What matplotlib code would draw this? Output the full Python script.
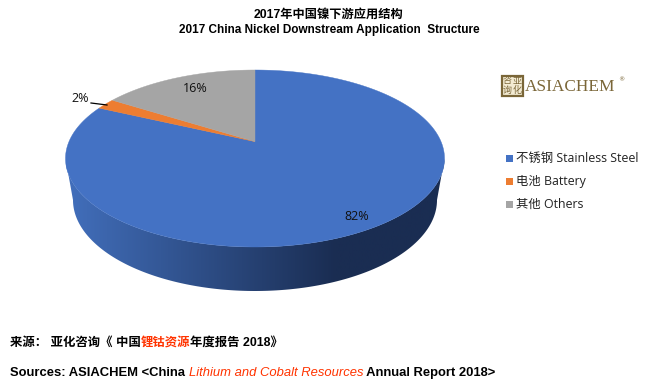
import numpy as np
import matplotlib
matplotlib.use("Agg")
import matplotlib.pyplot as plt
from matplotlib.patches import Polygon, Rectangle

W, H = 647, 386
CJK = "Noto Sans CJK SC"
LATIN = "Liberation Sans"

# data
labels = ["不锈钢 Stainless Steel", "电池 Battery", "其他 Others"]
values = [82, 2, 16]
pct_labels = ["82%", "2%", "16%"]
colors = ["#4472C4", "#ED7D31", "#A5A5A5"]

title_cn = "2017年中国镍下游应用结构"
title_en = "2017 China Nickel Downstream Application  Structure"

# pie geometry in pixels
cx, cy, rx, ry = 255.0, 158.5, 189.5, 88.5
apex_x, apex_y = 255.0, 141.6
squash = 0.457
bottom_cy, bottom_rx, bottom_ry = 200.0, 182.0, 91.0

fig = plt.figure(figsize=(W / 100, H / 100), dpi=100)
ax = fig.add_axes([0, 0, 1, 1])
ax.set_xlim(0, W)
ax.set_ylim(H, 0)
ax.axis("off")


def rim_point(theta):
    # shoot a ray from the apex, perspective squashed, and hit the ellipse
    dx, dy = np.sin(theta), -squash * np.cos(theta)
    ox, oy = (apex_x - cx) / rx, (apex_y - cy) / ry
    ux, uy = dx / rx, dy / ry
    a = ux * ux + uy * uy
    b = 2 * (ox * ux + oy * uy)
    c = ox * ox + oy * oy - 1
    t = (-b + np.sqrt(b * b - 4 * a * c)) / (2 * a)
    return apex_x + t * dx, apex_y + t * dy


def slice_poly(start, end):
    th = np.linspace(start, end, 200)
    pts = [rim_point(t) for t in th]
    return [(apex_x, apex_y)] + pts


# side wall, gradient clipped to the front of the cake
t = np.linspace(0, np.pi, 200)
top_x = cx - rx * np.cos(t)
top_y = cy + ry * np.sin(t)
bot_x = cx - bottom_rx * np.cos(t)
bot_y = bottom_cy + bottom_ry * np.sin(t)
wall = Polygon(np.r_[np.c_[top_x, top_y], np.c_[bot_x, bot_y][::-1]], closed=True,
               fc="none", ec="none")
ax.add_patch(wall)
c0 = np.array(matplotlib.colors.to_rgb("#426FBC"))
c1 = np.array(matplotlib.colors.to_rgb("#1A2D52"))
f = np.clip((np.linspace(cx - rx, cx + rx, 256) - (cx - rx)) / 270.0, 0, 1)
grad = (c0[None, :] * (1 - f[:, None]) + c1[None, :] * f[:, None])[None, :, :]
im = ax.imshow(grad, extent=[cx - rx, cx + rx, H, 0], aspect="auto", zorder=1)
im.set_clip_path(wall)
ax.set_xlim(0, W)
ax.set_ylim(H, 0)

# top of the pie, clockwise from 12 o'clock
angle = 0.0
for v, col in zip(values, colors):
    span = v / sum(values) * 2 * np.pi
    ax.add_patch(Polygon(slice_poly(angle, angle + span), closed=True, fc=col, ec=col,
                         lw=0.3, zorder=2))
    angle += span

# percent labels
pct_pos = [(357, 217), (80, 98), (195, 89)]
for s, (x, y) in zip(pct_labels, pct_pos):
    ax.text(x, y, s, ha="center", va="center", fontsize=9, family="Open Sans",
            color="#111111", zorder=3)
ax.plot([91, 107], [103, 105], color="black", lw=0.9, zorder=3)

# titles
ax.text(329, 15, title_cn, ha="center", va="center", fontsize=8.8, weight="bold",
        family=[LATIN, CJK])
ax.text(329, 29.5, title_en, ha="center", va="center", fontsize=8.43, weight="bold",
        family=LATIN)

# legend
legend_y = [158, 181, 204]
for s, col, y in zip(labels, colors, legend_y):
    ax.add_patch(Rectangle((506, y - 3.5), 7, 7, fc=col, ec="none"))
    ax.text(516, y, s, ha="left", va="center", fontsize=8.9, color="#222222",
            family=["Open Sans", CJK])

# logo
brown = "#7A6638"
ax.add_patch(Rectangle((501.5, 75.5), 21, 20, fc="#F3EBD3", ec=brown, lw=1.6))
for s, x, y in [("咨", 507, 81), ("亚", 517, 81), ("询", 507, 90), ("化", 517, 90)]:
    ax.text(x, y, s, ha="center", va="center", fontsize=6.5, color=brown, family=CJK)
ax.text(525, 87, "ASIACHEM", ha="left", va="center", fontsize=12.4, color=brown,
        family="Liberation Serif")
ax.text(621, 80, "®", ha="center", va="center", fontsize=4.5, color=brown)

# source lines built from pieces, each starts where the last one ended
renderer = fig.canvas.get_renderer()


def chain(x, y, size, parts):
    for s, col, style in parts:
        txt = ax.text(x, y, s, ha="left", va="center", fontsize=size,
                      weight="bold" if style != "it" else "normal",
                      style="italic" if style != "n" else "normal", color=col,
                      family=[LATIN, CJK])
        x = txt.get_window_extent(renderer).x1


red = "#FF3300"
chain(10, 343, 8.9, [("来源： 亚化咨询《 中国", "black", "n"), ("锂钴资源", red, "bi"),
                     ("年度报告 2018》", "black", "n")])
chain(10, 373, 9.36, [("Sources: ASIACHEM <China ", "black", "n"),
                      ("Lithium and Cobalt Resources", red, "it"),
                      (" Annual Report 2018>", "black", "n")])

fig.savefig("out.png", dpi=100, facecolor="white")
